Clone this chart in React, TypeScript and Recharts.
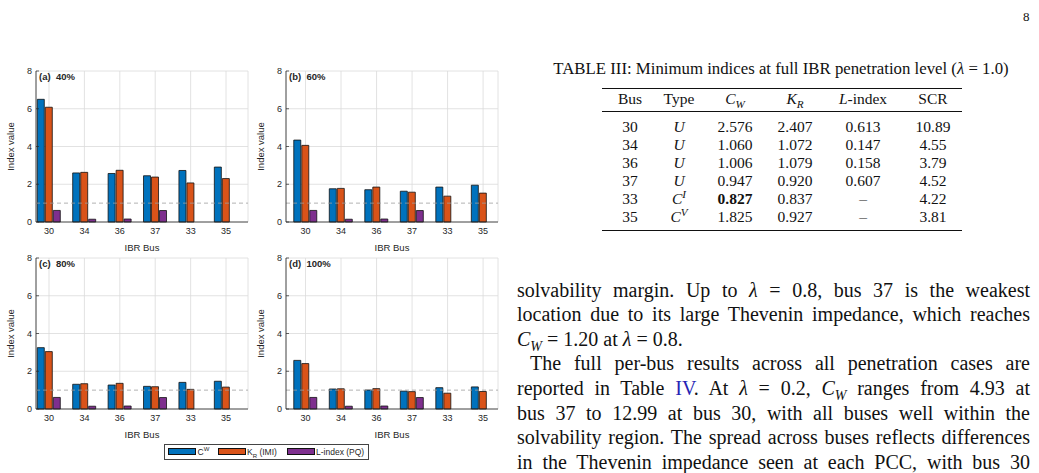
import React from 'react';
import { BarChart, Bar, XAxis, YAxis, CartesianGrid, ReferenceLine } from 'recharts';

// bus order used on every panel
const buses = ['30', '34', '36', '37', '33', '35'];

// C_W per penetration level
const cw40 = [6.5, 2.6, 2.57, 2.45, 2.73, 2.91];
const cw60 = [4.34, 1.76, 1.71, 1.63, 1.85, 1.95];
const cw80 = [3.25, 1.31, 1.27, 1.2, 1.41, 1.47];
const cw100 = [2.576, 1.06, 1.006, 0.947, 1.13, 1.17];

// K_R (IMI) per penetration level
const kr40 = [6.08, 2.63, 2.74, 2.38, 2.07, 2.3];
const kr60 = [4.06, 1.78, 1.85, 1.58, 1.37, 1.53];
const kr80 = [3.04, 1.34, 1.36, 1.18, 1.04, 1.16];
const kr100 = [2.407, 1.072, 1.079, 0.92, 0.837, 0.927];

// L-index only exists at the PQ buses
const lIndex = [0.613, 0.147, 0.158, 0.607, null, null];

const yTicks = [0, 2, 4, 6, 8];

// Table III
const tblBus = ['30', '34', '36', '37', '33', '35'];
const tblType = [['U', ''], ['U', ''], ['U', ''], ['U', ''], ['C', 'I'], ['C', 'V']];
const tblCw = ['2.576', '1.060', '1.006', '0.947', '0.827', '1.825'];
const tblKr = ['2.407', '1.072', '1.079', '0.920', '0.837', '0.927'];
const tblL = ['0.613', '0.147', '0.158', '0.607', '–', '–'];
const tblScr = ['10.89', '4.55', '3.79', '4.52', '4.22', '3.81'];

const BLUE = '#0072BD';
const ORANGE = '#D95319';
const PURPLE = '#7E2F8E';
const AXIS = '#262626';
const SANS = '"Liberation Sans", Arial, Helvetica, sans-serif';
const SERIF = '"Liberation Serif", "Times New Roman", serif';

const PLOT_W = 212;
const PLOT_H = 151;
const Y_AXIS_W = 50;
const X_AXIS_H = 30;
const M_TOP = 8;
const M_RIGHT = 4;
const TICK_FS = 9;
const LABEL_FS = 9.5;

const YTick = (p: any) => (
  <g>
    <line x1={p.x + 4} x2={p.x + 7} y1={p.y} y2={p.y} stroke={AXIS} strokeWidth={0.7} />
    <text x={p.x} y={p.y} dy={3.2} textAnchor="end" fontSize={TICK_FS} fill={AXIS} fontFamily={SANS}>
      {p.payload.value}
    </text>
  </g>
);

type PanelProps = {
  tag: string;
  pct: string;
  cw: number[];
  kr: number[];
  axisX: number;
  plotTop: number;
  lo: number;
  hi: number;
};

function Panel({ tag, pct, cw, kr, axisX, plotTop, lo, hi }: PanelProps) {
  const data = buses.map((b, i) => ({ x: i + 1, bus: b, cw: cw[i], kr: kr[i], li: lIndex[i] }));
  return (
    <div style={{ position: 'absolute', left: axisX - Y_AXIS_W, top: plotTop - M_TOP, fontFamily: SANS }}>
      <BarChart
        width={Y_AXIS_W + PLOT_W + M_RIGHT}
        height={M_TOP + PLOT_H + X_AXIS_H}
        data={data}
        margin={{ top: M_TOP, right: M_RIGHT, bottom: 0, left: 0 }}
        barSize={7}
        barGap={1}
      >
        <CartesianGrid stroke="#dadada" strokeWidth={0.8} />
        <XAxis
          type="number"
          dataKey="x"
          domain={[lo, hi]}
          allowDataOverflow
          ticks={[1, 2, 3, 4, 5, 6]}
          interval={0}
          tickFormatter={(v: number) => buses[v - 1]}
          height={X_AXIS_H}
          tickLine={false}
          tickSize={0}
          tickMargin={6}
          axisLine={{ stroke: AXIS, strokeWidth: 0.8 }}
          tick={{ fontSize: TICK_FS, fill: AXIS }}
          label={{ value: 'IBR Bus', position: 'insideBottom', offset: 1.5, fontSize: LABEL_FS, fill: AXIS }}
        />
        <YAxis
          type="number"
          domain={[0, 8]}
          ticks={yTicks}
          interval={0}
          width={Y_AXIS_W}
          tickLine={false}
          tickSize={0}
          tickMargin={4}
          axisLine={{ stroke: AXIS, strokeWidth: 0.8 }}
          tick={<YTick />}
          label={{ value: 'Index value', angle: -90, position: 'center', fontSize: LABEL_FS, fill: AXIS }}
        />
        <ReferenceLine y={1} stroke="#a0a0a0" strokeWidth={0.8} strokeDasharray="4 3" />
        <Bar dataKey="cw" fill={BLUE} stroke="#111" strokeWidth={0.8} isAnimationActive={false} />
        <Bar dataKey="kr" fill={ORANGE} stroke="#111" strokeWidth={0.8} isAnimationActive={false} />
        <Bar dataKey="li" fill={PURPLE} stroke="#111" strokeWidth={0.8} isAnimationActive={false} />
      </BarChart>
      <div
        style={{
          position: 'absolute',
          left: Y_AXIS_W + 3,
          top: M_TOP,
          fontSize: LABEL_FS,
          fontWeight: 700,
          color: AXIS,
          whiteSpace: 'pre',
        }}
      >
        {`${tag}  ${pct}`}
      </div>
    </div>
  );
}

function Legend() {
  const sw = (left: number, color: string) => (
    <div
      style={{
        position: 'absolute',
        left,
        top: 3.5,
        width: 28,
        height: 7,
        boxSizing: 'border-box',
        background: color,
        border: '0.8px solid #111',
      }}
    />
  );
  const txt: React.CSSProperties = {
    position: 'absolute',
    top: 0,
    fontSize: 8.5,
    lineHeight: '14px',
    color: AXIS,
    whiteSpace: 'nowrap',
  };
  const small: React.CSSProperties = { fontSize: 6, lineHeight: 0 };
  return (
    <div
      style={{
        position: 'absolute',
        left: 164,
        top: 443.5,
        width: 203,
        height: 14,
        border: '0.8px solid #444',
        background: '#fff',
        fontFamily: SANS,
      }}
    >
      {sw(3, BLUE)}
      <div style={{ ...txt, left: 32.5 }}>
        C<sup style={small}>W</sup>
      </div>
      {sw(53, ORANGE)}
      <div style={{ ...txt, left: 82 }}>
        K<sub style={small}>R</sub> (IMI)
      </div>
      {sw(122, PURPLE)}
      <div style={{ ...txt, left: 151 }}>L-index (PQ)</div>
    </div>
  );
}

const colX = [630, 679, 735, 795, 863, 933];
const rowY = [127, 145, 163, 181, 199, 217];

function Cell({ x, y, children, bold }: { x: number; y: number; children: React.ReactNode; bold?: boolean }) {
  return (
    <div
      style={{
        position: 'absolute',
        left: x - 40,
        top: y - 10,
        width: 80,
        height: 20,
        lineHeight: '20px',
        textAlign: 'center',
        fontWeight: bold ? 700 : 400,
        whiteSpace: 'nowrap',
      }}
    >
      {children}
    </div>
  );
}

function Table() {
  const sub: React.CSSProperties = { fontSize: '0.72em', fontStyle: 'italic', lineHeight: 0 };
  return (
    <div style={{ position: 'absolute', left: 0, top: 0, fontFamily: SERIF, fontSize: 15.5, color: '#111' }}>
      <div
        style={{
          position: 'absolute',
          left: 431,
          top: 59,
          width: 700,
          textAlign: 'center',
          fontSize: 16.8,
          whiteSpace: 'nowrap',
        }}
      >
        TABLE III: Minimum indices at full IBR penetration level (<i>λ</i> = 1.0)
      </div>
      <div style={{ position: 'absolute', left: 602, top: 88, width: 360, height: 1.4, background: '#111' }} />
      <div style={{ position: 'absolute', left: 602, top: 111, width: 360, height: 0.9, background: '#111' }} />
      <div style={{ position: 'absolute', left: 602, top: 229.5, width: 360, height: 1.6, background: '#111' }} />
      <Cell x={colX[0]} y={98.5}>Bus</Cell>
      <Cell x={colX[1]} y={98.5}>Type</Cell>
      <Cell x={colX[2]} y={98.5}>
        <i>C</i>
        <sub style={sub}>W</sub>
      </Cell>
      <Cell x={colX[3]} y={98.5}>
        <i>K</i>
        <sub style={sub}>R</sub>
      </Cell>
      <Cell x={colX[4]} y={98.5}>
        <i>L</i>-index
      </Cell>
      <Cell x={colX[5]} y={98.5}>SCR</Cell>
      {tblBus.map((b, i) => (
        <React.Fragment key={b}>
          <Cell x={colX[0]} y={rowY[i]}>{b}</Cell>
          <Cell x={colX[1]} y={rowY[i]}>
            <i>{tblType[i][0]}</i>
            {tblType[i][1] && <sup style={sub}>{tblType[i][1]}</sup>}
          </Cell>
          <Cell x={colX[2]} y={rowY[i]} bold={tblCw[i] === '0.827'}>
            {tblCw[i]}
          </Cell>
          <Cell x={colX[3]} y={rowY[i]}>{tblKr[i]}</Cell>
          <Cell x={colX[4]} y={rowY[i]}>{tblL[i]}</Cell>
          <Cell x={colX[5]} y={rowY[i]}>{tblScr[i]}</Cell>
        </React.Fragment>
      ))}
    </div>
  );
}

const LINE_H = 24.6;

function Line({ i, indent = 0, last, children }: { i: number; indent?: number; last?: boolean; children: React.ReactNode }) {
  return (
    <div
      style={{
        position: 'absolute',
        left: 517 + indent,
        top: 277.5 + i * LINE_H,
        width: 513 - indent,
        height: LINE_H,
        lineHeight: `${LINE_H}px`,
        textAlign: last ? 'left' : 'justify',
        textAlignLast: last ? 'left' : 'justify',
      }}
    >
      {children}
    </div>
  );
}

function Body() {
  const cw = (
    <>
      <i>C</i>
      <sub style={{ fontSize: '0.7em', fontStyle: 'italic', lineHeight: 0 }}>W</sub>
    </>
  );
  return (
    <div style={{ position: 'absolute', left: 0, top: 0, fontFamily: SERIF, fontSize: 20, color: '#111' }}>
      <Line i={0}>
        solvability margin. Up to <i>λ</i> = 0.8, bus 37 is the weakest
      </Line>
      <Line i={1}>location due to its large Thevenin impedance, which reaches</Line>
      <Line i={2} last>
        {cw} = 1.20 at <i>λ</i> = 0.8.
      </Line>
      <Line i={3} indent={13}>
        The full per-bus results across all penetration cases are
      </Line>
      <Line i={4}>
        reported in Table <span style={{ color: '#2424b4' }}>IV</span>. At <i>λ</i> = 0.2, {cw} ranges from 4.93 at
      </Line>
      <Line i={5}>bus 37 to 12.99 at bus 30, with all buses well within the</Line>
      <Line i={6}>solvability region. The spread across buses reflects differences</Line>
      <Line i={7}>in the Thevenin impedance seen at each PCC, with bus 30</Line>
    </div>
  );
}

export default function App() {
  return (
    <div
      style={{
        position: 'absolute',
        left: 0,
        top: 0,
        width: 1039,
        height: 473,
        overflow: 'hidden',
        background: '#fff',
      }}
    >
      <Panel tag="(a)" pct="40%" cw={cw40} kr={kr40} axisX={36} plotTop={71} lo={0.633} hi={6.62} />
      <Panel tag="(b)" pct="60%" cw={cw60} kr={kr60} axisX={286} plotTop={71} lo={0.45} hi={6.42} />
      <Panel tag="(c)" pct="80%" cw={cw80} kr={kr80} axisX={36} plotTop={258} lo={0.633} hi={6.62} />
      <Panel tag="(d)" pct="100%" cw={cw100} kr={kr100} axisX={286} plotTop={258} lo={0.45} hi={6.42} />
      <Legend />
      <Table />
      <Body />
      <div style={{ position: 'absolute', left: 1023, top: 9, fontFamily: SERIF, fontSize: 13, color: '#111' }}>8</div>
    </div>
  );
}
